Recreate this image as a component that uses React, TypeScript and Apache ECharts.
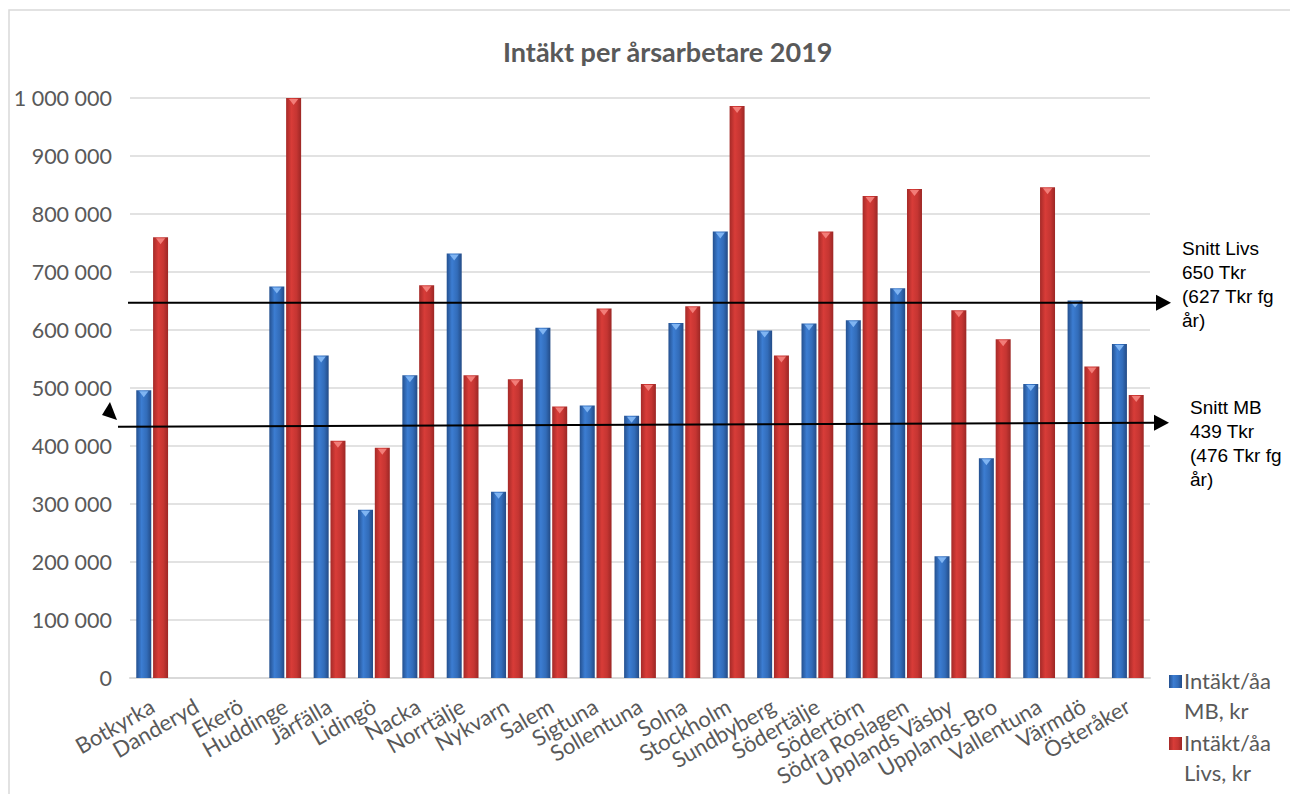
import React, { useEffect, useRef } from "react";
import * as echarts from "echarts";

const categories = [
  "Botkyrka", "Danderyd", "Ekerö", "Huddinge", "Järfälla", "Lidingö", "Nacka",
  "Norrtälje", "Nykvarn", "Salem", "Sigtuna", "Sollentuna", "Solna", "Stockholm",
  "Sundbyberg", "Södertälje", "Södertörn", "Södra Roslagen", "Upplands Väsby",
  "Upplands-Bro", "Vallentuna", "Värmdö", "Österåker",
];

const mbValues = [
  496000, null, null, 675000, 556000, 290000, 522000, 732000, 321000, 604000,
  470000, 452000, 612000, 770000, 599000, 611000, 617000, 672000, 210000,
  379000, 507000, 651000, 576000,
];

const livsValues = [
  760000, null, null, 1000000, 409000, 397000, 677000, 522000, 515000, 468000,
  637000, 507000, 641000, 986000, 556000, 770000, 831000, 843000, 634000,
  584000, 846000, 537000, 488000,
];

const seriesNames = ["Intäkt/åa MB, kr", "Intäkt/åa Livs, kr"];
const yTicks = { min: 0, max: 1000000, interval: 100000 };

const livsAvgLine = 647000;
const mbAvgLineStart = 433000;
const mbAvgLineEnd = 440000;
const livsNote = "Snitt Livs\n650 Tkr\n(627 Tkr fg\når)";
const mbNote = "Snitt MB\n439 Tkr\n(476 Tkr fg\når)";
const titleText = "Intäkt per årsarbetare 2019";

const fmt = (v: number) => String(v).replace(/\B(?=(\d{3})+(?!\d))/g, " ");

const blueGrad = new echarts.graphic.LinearGradient(0, 0, 1, 0, [
  { offset: 0, color: "#24508f" },
  { offset: 0.35, color: "#3c7dd2" },
  { offset: 0.7, color: "#326cb9" },
  { offset: 1, color: "#234b86" },
]);
const redGrad = new echarts.graphic.LinearGradient(0, 0, 1, 0, [
  { offset: 0, color: "#a52a28" },
  { offset: 0.35, color: "#d83c38" },
  { offset: 0.7, color: "#c53532" },
  { offset: 1, color: "#9c2725" },
]);

const BAR_W = 15;
const BAR_GAP = "12%";
const CAT_GAP = "28%";

export default function App() {
  const ref = useRef<HTMLDivElement>(null);
  useEffect(() => {
    if (!ref.current) return;
    const chart = echarts.init(ref.current, null, { renderer: "svg" });
    const font = "Lato, 'Open Sans', sans-serif";
    chart.setOption({
      animation: false,
      backgroundColor: "#ffffff",
      title: {
        text: titleText,
        left: 490,
        top: 25,
        textStyle: { fontFamily: font, fontSize: 27, fontWeight: "bold", color: "#595959" },
      },
      grid: { left: 122, right: 148, top: 90, bottom: 116 },
      legend: {
        orient: "vertical",
        left: 1161,
        top: 657,
        padding: 0,
        itemWidth: 13,
        itemHeight: 40,
        itemGap: 2,
        icon: "path://M0,0h13v13h-13z M0,40h0.01v0.01h-0.01z",
        formatter: (n: string) => n.replace("åa ", "åa\n"),
        textStyle: { fontFamily: font, fontSize: 22, lineHeight: 30, color: "#595959", padding: [0, 0, 0, -3] },
        data: seriesNames,
      },
      xAxis: {
        type: "category",
        data: categories,
        axisTick: { show: false },
        axisLine: { lineStyle: { color: "#d9d9d9", width: 2 } },
        axisLabel: {
          interval: 0,
          rotate: 30,
          margin: 26,
          fontFamily: font,
          fontSize: 22,
          color: "#595959",
        },
      },
      yAxis: {
        type: "value",
        min: yTicks.min,
        max: yTicks.max,
        interval: yTicks.interval,
        axisLine: { show: false },
        axisTick: { show: false },
        splitLine: { lineStyle: { color: "#d9d9d9", width: 1.5 } },
        axisLabel: {
          formatter: (v: number) => fmt(v),
          fontFamily: font,
          fontSize: 21.5,
          color: "#595959",
          margin: 18,
        },
      },
      series: [
        {
          name: seriesNames[0],
          type: "bar",
          data: mbValues,
          barWidth: BAR_W,
          barGap: BAR_GAP,
          barCategoryGap: CAT_GAP,
          itemStyle: { color: blueGrad },
        },
        {
          name: seriesNames[1],
          type: "bar",
          data: livsValues,
          barWidth: BAR_W,
          barGap: BAR_GAP,
          barCategoryGap: CAT_GAP,
          itemStyle: { color: redGrad },
        },
        {
          type: "pictorialBar",
          data: mbValues,
          barWidth: BAR_W,
          barGap: BAR_GAP,
          barCategoryGap: CAT_GAP,
          symbol: "path://M0,0L10,0L5,6Z",
          symbolSize: [9, 6],
          symbolPosition: "end",
          symbolOffset: [0, 1],
          itemStyle: { color: "#7fb4f2" },
          z: 5,
          silent: true,
          tooltip: { show: false },
        },
        {
          type: "pictorialBar",
          data: livsValues,
          barWidth: BAR_W,
          barGap: BAR_GAP,
          barCategoryGap: CAT_GAP,
          symbol: "path://M0,0L10,0L5,6Z",
          symbolSize: [9, 6],
          symbolPosition: "end",
          symbolOffset: [0, 1],
          itemStyle: { color: "#f27d78" },
          z: 5,
          silent: true,
          tooltip: { show: false },
        },
      ],
    });

    const yLivs = chart.convertToPixel({ yAxisIndex: 0 }, livsAvgLine) as number;
    const yMb1 = chart.convertToPixel({ yAxisIndex: 0 }, mbAvgLineStart) as number;
    const yMb2 = chart.convertToPixel({ yAxisIndex: 0 }, mbAvgLineEnd) as number;
    const arrow = (tipX: number, y: number) => ({
      type: "polygon",
      shape: { points: [[tipX - 15, y - 8], [tipX - 15, y + 8], [tipX, y]] },
      style: { fill: "#000" },
    });
    chart.setOption({
      graphic: [
        {
          type: "rect",
          shape: { x: 1, y: 2, width: 1400, height: 900 },
          style: { fill: "none", stroke: "#d9d9d9", lineWidth: 1.5 },
          silent: true,
          z: -1,
        },
        {
          type: "line",
          shape: { x1: 120, y1: yLivs, x2: 1150, y2: yLivs },
          style: { stroke: "#000", lineWidth: 2 },
          z: 10,
        },
        { ...arrow(1163, yLivs), z: 10 },
        {
          type: "line",
          shape: { x1: 110, y1: yMb1, x2: 1148, y2: yMb2 },
          style: { stroke: "#000", lineWidth: 2 },
          z: 10,
        },
        { ...arrow(1161, yMb2), z: 10 },
        {
          type: "polygon",
          shape: { points: [[102, 394], [94, 407], [109, 412]] },
          style: { fill: "#000" },
          z: 10,
        },
        {
          type: "text",
          x: 1174,
          y: 228,
          style: {
            text: livsNote,
            fontFamily: "'Liberation Sans', Arial, sans-serif",
            fontSize: 19,
            lineHeight: 24,
            fill: "#000",
          },
        },
        {
          type: "text",
          x: 1182,
          y: 387,
          style: {
            text: mbNote,
            fontFamily: "'Liberation Sans', Arial, sans-serif",
            fontSize: 19,
            lineHeight: 24,
            fill: "#000",
          },
        },
      ],
    });
    return () => chart.dispose();
  }, []);
  return <div ref={ref} style={{ width: 1290, height: 786 }} />;
}
